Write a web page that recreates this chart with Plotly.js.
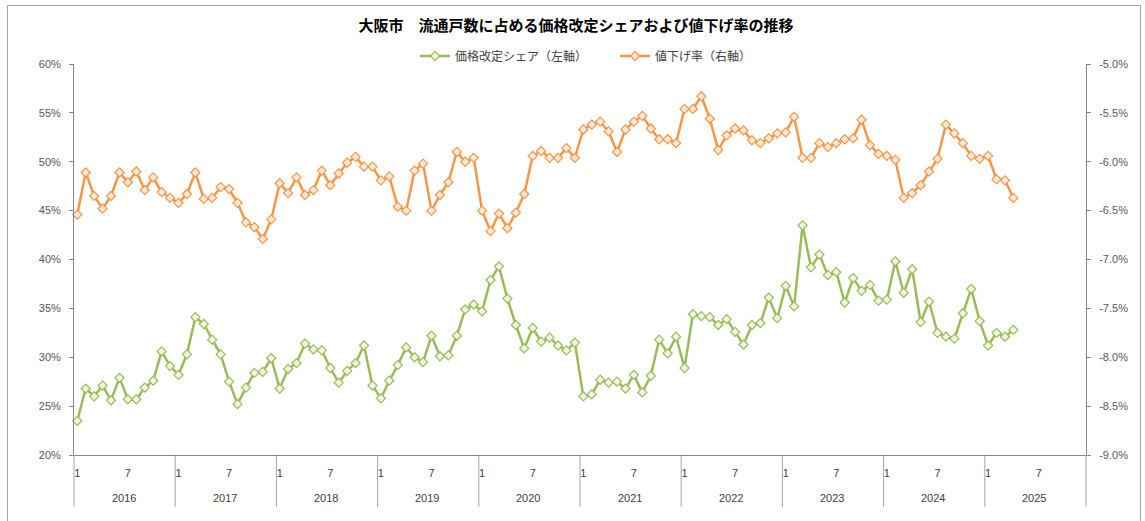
<!DOCTYPE html>
<html>
<head>
<meta charset="utf-8">
<script src="https://cdn.plot.ly/plotly-3.0.1.min.js"></script>
<style>
  html, body { margin: 0; padding: 0; background: #fff; }
  #wrap { position: relative; width: 1145px; height: 521px; overflow: hidden; }
  #chart { position: absolute; left: 0; top: 0; width: 1145px; height: 521px; }
  #frame { position: absolute; left: 7px; top: 5px; width: 1132px; height: 530px; border: 1px solid #a6a6a6; pointer-events: none; }
</style>
</head>
<body>
<div id="wrap"><div id="chart"></div><div id="frame"></div></div>
<script>
// ---- data (monthly, Jan 2016 .. Apr 2025) ----
const years = [2016, 2017, 2018, 2019, 2020, 2021, 2022, 2023, 2024, 2025];
const monthTickLabels = ["1", "7"];

// 価格改定シェア (%), left axis
const shareValues = [
  23.5, 26.8, 26.0, 27.1, 25.6, 27.9, 25.7, 25.7, 26.9, 27.6, 30.6, 29.1,
  28.2, 30.3, 34.1, 33.4, 31.8, 30.3, 27.5, 25.2, 26.9, 28.4, 28.5, 29.9,
  26.8, 28.8, 29.4, 31.4, 30.8, 30.7, 28.9, 27.4, 28.6, 29.4, 31.2, 27.1,
  25.8, 27.6, 29.2, 31.0, 30.0, 29.5, 32.2, 30.1, 30.2, 32.2, 34.9, 35.4,
  34.7, 37.9, 39.3, 36.0, 33.3, 30.9, 33.0, 31.6, 32.0, 31.2, 30.7, 31.5,
  26.0, 26.2, 27.7, 27.4, 27.5, 26.8, 28.2, 26.4, 28.1, 31.8, 30.4, 32.1,
  28.9, 34.4, 34.2, 34.1, 33.3, 33.9, 32.6, 31.3, 33.3, 33.5, 36.1, 34.0,
  37.3, 35.2, 43.5, 39.2, 40.5, 38.4, 38.7, 35.6, 38.1, 36.8, 37.4, 35.8,
  35.9, 39.8, 36.6, 39.0, 33.6, 35.7, 32.5, 32.1, 31.9, 34.5, 37.0, 33.7,
  31.2, 32.5, 32.1, 32.8
];

// 値下げ率 (%), right axis
const declineValues = [
  -6.54, -6.11, -6.35, -6.48, -6.35, -6.11, -6.21, -6.10, -6.29, -6.16, -6.31, -6.37,
  -6.42, -6.33, -6.11, -6.38, -6.37, -6.26, -6.28, -6.42, -6.62, -6.67, -6.79, -6.59,
  -6.22, -6.32, -6.16, -6.34, -6.29, -6.09, -6.24, -6.12, -6.01, -5.95, -6.05, -6.05,
  -6.19, -6.15, -6.46, -6.50, -6.09, -6.02, -6.50, -6.34, -6.21, -5.90, -6.00, -5.96,
  -6.50, -6.71, -6.53, -6.68, -6.52, -6.33, -5.94, -5.89, -5.96, -5.96, -5.86, -5.96,
  -5.67, -5.62, -5.59, -5.69, -5.90, -5.67, -5.59, -5.53, -5.66, -5.77, -5.77, -5.81,
  -5.46, -5.46, -5.33, -5.56, -5.88, -5.73, -5.66, -5.68, -5.78, -5.81, -5.76, -5.71,
  -5.70, -5.54, -5.96, -5.96, -5.81, -5.85, -5.81, -5.77, -5.76, -5.57, -5.83, -5.92,
  -5.94, -5.98, -6.37, -6.32, -6.24, -6.10, -5.97, -5.62, -5.71, -5.81, -5.94, -5.97,
  -5.94, -6.18, -6.19, -6.37
];

const leftTickVals = [20, 25, 30, 35, 40, 45, 50, 55, 60];
const rightTickVals = [-9.0, -8.5, -8.0, -7.5, -7.0, -6.5, -6.0, -5.5, -5.0];

// ---- derived ----
const xShare = shareValues.map((_, i) => i);
const xDecline = declineValues.map((_, i) => i);
const monthTickVals = [];
const monthTickText = [];
years.forEach((y, k) => {
  monthTickVals.push(12 * k, 12 * k + 6);
  monthTickText.push(monthTickLabels[0], monthTickLabels[1]);
});
const nMonths = years.length * 12;
const xStart = -0.39;

const green = '#9BBB59';
const orange = '#F79646';
const axisColor = '#868686';
const tickFont = { family: 'Liberation Sans, Arial, sans-serif', size: 11, color: '#595959' };
const jp = '"Noto Sans CJK JP", "Noto Sans", sans-serif';

const traces = [
  {
    x: xShare, y: shareValues, name: '価格改定シェア（左軸）',
    type: 'scatter', mode: 'lines+markers', yaxis: 'y',
    line: { color: green, width: 2.5 },
    marker: { symbol: 'diamond', size: 7, color: '#eef5e0', line: { color: green, width: 1.2 } },
    cliponaxis: false
  },
  {
    x: xDecline, y: declineValues, name: '値下げ率（右軸）',
    type: 'scatter', mode: 'lines+markers', yaxis: 'y2',
    line: { color: orange, width: 2.5 },
    marker: { symbol: 'diamond', size: 7, color: '#fde9d9', line: { color: orange, width: 1.2 } },
    cliponaxis: false
  }
];

const sepBottom = -(507 - 455) / 391;
const shapes = years.map((y, k) => ({
  type: 'line', xref: 'paper', yref: 'paper',
  x0: k / years.length, x1: k / years.length, y0: 0, y1: sepBottom,
  line: { color: '#a6a6a6', width: 1 }
}));
shapes.push({
  type: 'line', xref: 'paper', yref: 'paper',
  x0: 1, x1: 1, y0: 0, y1: sepBottom,
  line: { color: '#a6a6a6', width: 1 }
});

const annotations = years.map((y, k) => ({
  xref: 'x', yref: 'paper', x: 12 * k + 5.5, y: -(498 - 455) / 391,
  text: String(y), showarrow: false, xanchor: 'center', yanchor: 'middle',
  font: { family: 'Liberation Sans, Arial, sans-serif', size: 11, color: '#404040' }
}));

const layout = {
  width: 1145, height: 521,
  margin: { l: 74, r: 59, t: 64, b: 66, pad: 0 },
  paper_bgcolor: '#ffffff', plot_bgcolor: '#ffffff',
  showlegend: true,
  title: {
    text: '大阪市　流通戸数に占める価格改定シェアおよび値下げ率の推移',
    font: { family: jp, size: 15, color: '#000000', weight: 'bold' },
    x: 0.503, xanchor: 'center', y: 1 - 26 / 521, yanchor: 'middle', xref: 'container', yref: 'container'
  },
  legend: {
    orientation: 'h', x: (415 - 74) / 1012, xanchor: 'left', y: 1 + (64 - 56) / 391, yanchor: 'middle',
    font: { family: jp, size: 12, color: '#404040' },
    bgcolor: 'rgba(0,0,0,0)', itemwidth: 30, tracegroupgap: 0,
    entrywidth: 155, entrywidthmode: 'pixels'
  },
  xaxis: {
    type: 'linear', range: [xStart, xStart + nMonths],
    tickmode: 'array', tickvals: monthTickVals, ticktext: monthTickText,
    ticks: '', showgrid: false, zeroline: false,
    showline: true, linecolor: axisColor, linewidth: 1,
    tickfont: { family: 'Liberation Sans, Arial, sans-serif', size: 11, color: '#404040' },
    ticklabelstandoff: 8
  },
  yaxis: {
    range: [20, 60], tickmode: 'array', tickvals: leftTickVals,
    ticktext: leftTickVals.map(v => v + '%'),
    ticks: 'outside', ticklen: 4, tickcolor: axisColor,
    showgrid: false, zeroline: false, showline: true, linecolor: axisColor, linewidth: 1,
    tickfont: tickFont, ticklabelstandoff: 6
  },
  yaxis2: {
    range: [-9, -5], overlaying: 'y', side: 'right', anchor: 'x',
    tickmode: 'array', tickvals: rightTickVals,
    ticktext: rightTickVals.map(v => v.toFixed(1) + '%'),
    ticks: 'outside', ticklen: 4, tickcolor: axisColor,
    showgrid: false, zeroline: false, showline: true, linecolor: axisColor, linewidth: 1,
    tickfont: tickFont, ticklabelstandoff: 6
  },
  shapes: shapes,
  annotations: annotations
};

Plotly.newPlot('chart', traces, layout, { displayModeBar: false, staticPlot: true });
</script>
</body>
</html>
